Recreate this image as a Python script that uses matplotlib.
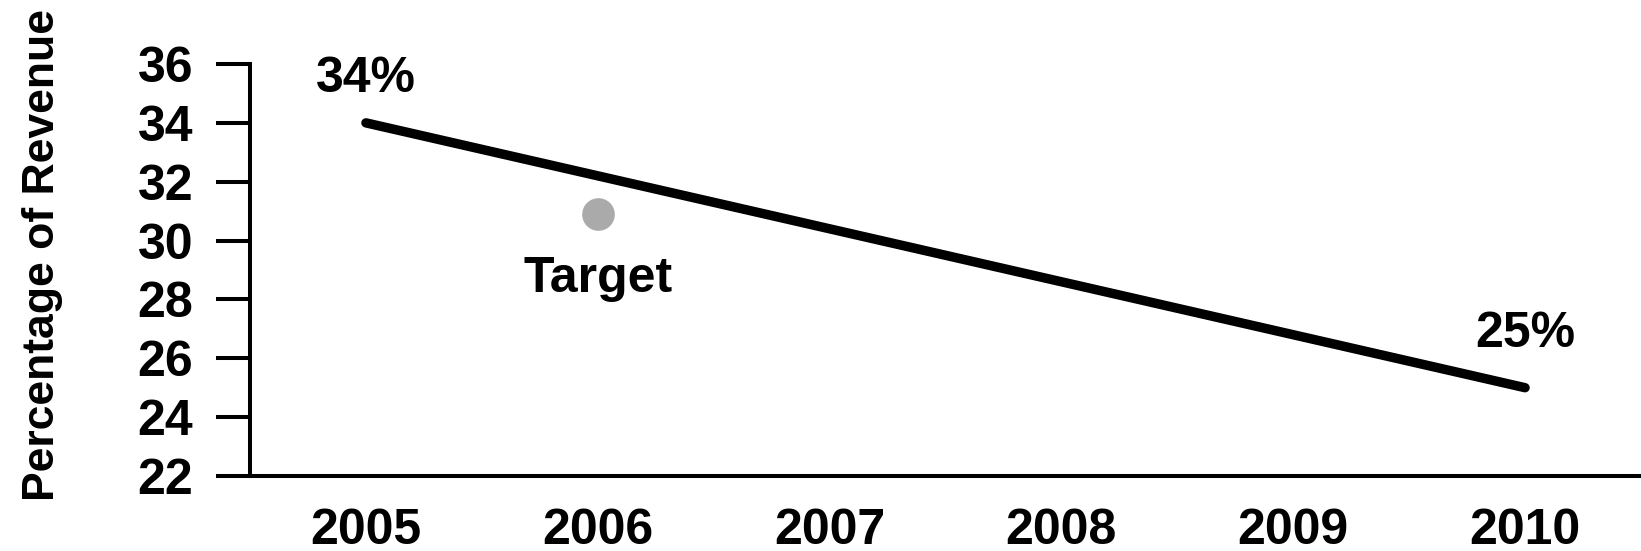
import matplotlib
matplotlib.use('Agg')
import matplotlib.pyplot as plt

# Chart values
years = [2005, 2010]
share = [34, 25]
target_year = [2006]
target_share = [30.9]
y_ticks = [22, 24, 26, 28, 30, 32, 34, 36]
x_ticks = [2005, 2006, 2007, 2008, 2009, 2010]

plt.rcParams['font.family'] = ['Liberation Sans', 'DejaVu Sans']
plt.rcParams['font.weight'] = 'bold'

fig = plt.figure(figsize=(16.41, 5.51), dpi=100)
ax = fig.add_axes([0.15235, 0.13612, 0.84765, 0.74773])

# Main trend line and target point
ax.plot(years, share, color='black', linewidth=6.8, solid_capstyle='round')
ax.plot(target_year, target_share, 'o', color='#aaaaaa', markersize=23.5, markeredgewidth=0)

# End labels
ax.text(years[0], 35.05, '%d%%' % share[0], ha='center', va='baseline', fontsize=36, fontweight='bold')
ax.text(years[-1], 26.38, '%d%%' % share[-1], ha='center', va='baseline', fontsize=36, fontweight='bold')
ax.text(target_year[0], 28.25, 'Target', ha='center', va='baseline', fontsize=36, fontweight='bold')

ax.set_xlim(2004.5, 2010.5)
ax.set_ylim(22, 36)
ax.set_yticks(y_ticks)
ax.set_xticks(x_ticks)
ax.set_xticklabels([str(x) for x in x_ticks])

for side in ['top', 'right']:
    ax.spines[side].set_visible(False)
for side in ['left', 'bottom']:
    ax.spines[side].set_linewidth(2.9)
ax.spines['left'].set_bounds(22, 36)

ax.tick_params(axis='y', length=24.5, width=2.9, pad=16.5, labelsize=36)
ax.tick_params(axis='x', length=0, pad=23, labelsize=36)
for lbl in ax.get_xticklabels() + ax.get_yticklabels():
    lbl.set_fontweight('bold')

fig.text(43 / 1641, 1 - 255 / 551, 'Percentage of Revenue', rotation=90,
         ha='center', va='center', fontsize=32, fontweight='bold')

fig.savefig('out.png', dpi=100, facecolor='white')
plt.close()
